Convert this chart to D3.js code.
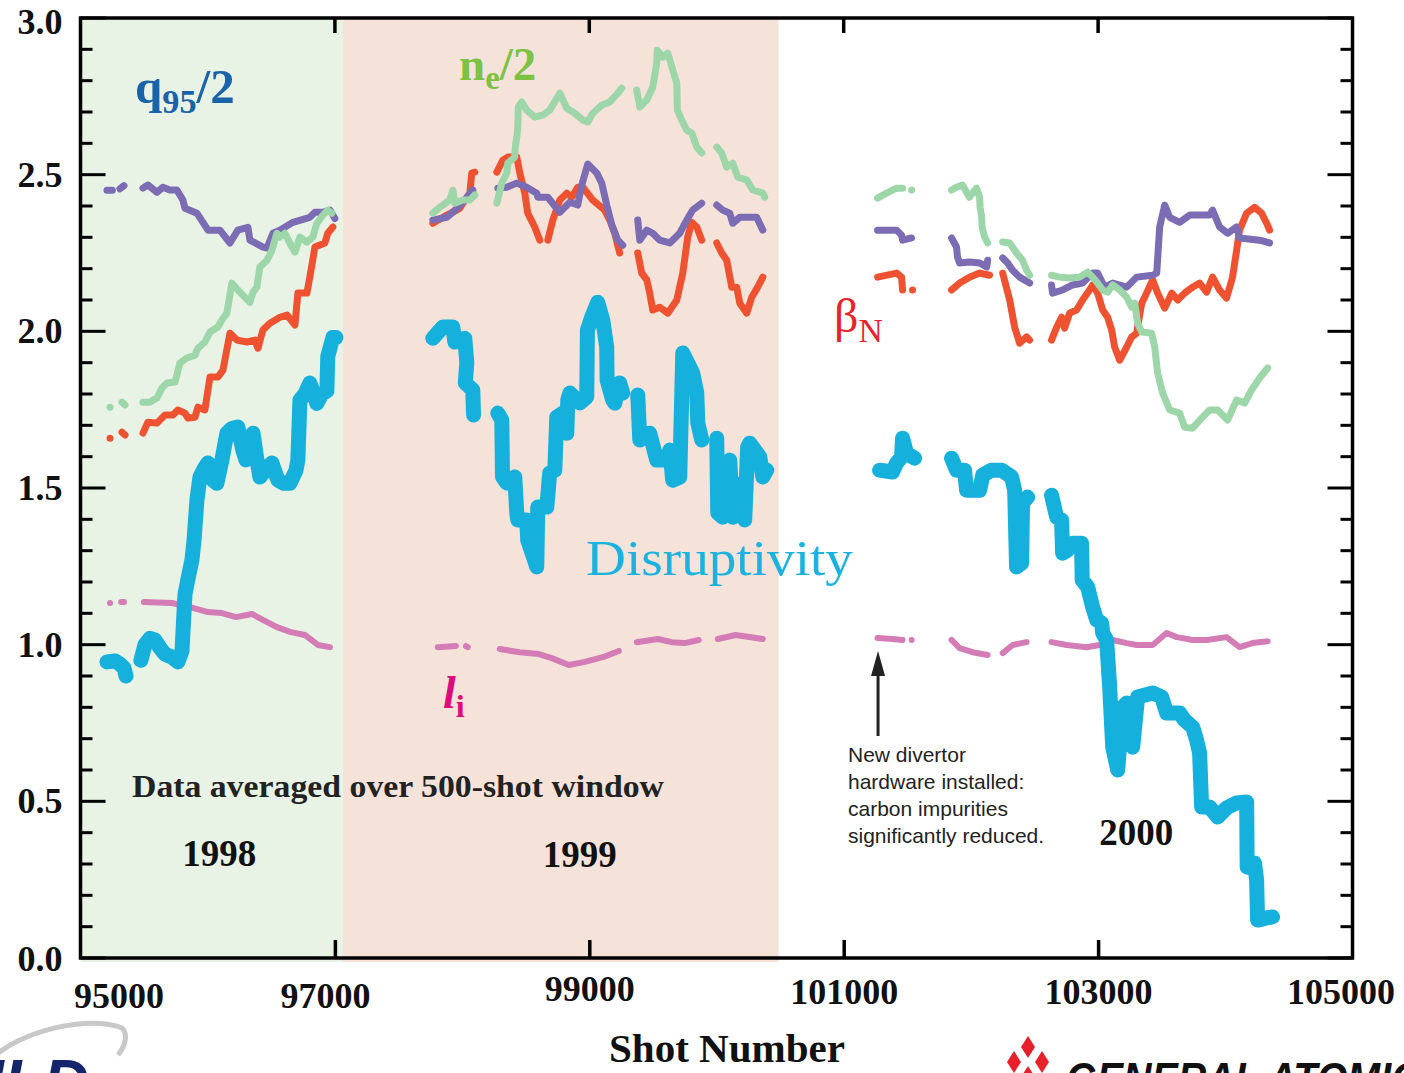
<!DOCTYPE html>
<html>
<head>
<meta charset="UTF-8">
<title>Disruptivity vs Shot Number</title>
<script src="https://cdn.jsdelivr.net/npm/d3@7"></script>
<style>
  body { margin: 0; background: #fff; overflow: hidden; }
  svg { display: block; }
</style>
</head>
<body>
<script>
// ---- data (shot number, value); null = gap in the record ----
var yearSpans = [[95000, 97063, "#e8f2e5"], [97063, 100489, "#f5e3da"]];
var xTicks = [95000, 97000, 99000, 101000, 103000, 105000];
var yTicks = [0, 0.5, 1.0, 1.5, 2.0, 2.5, 3.0];

var disrupt = [
  [95208,0.945],[95271,0.948],[95310,0.938],[95342,0.925],[95358,0.90], null,
  [95475,0.95],[95507,1.0],[95546,1.02],[95585,1.015],[95625,0.99],[95664,0.97],[95719,0.96],[95766,0.945],
  [95798,0.98],[95821,1.16],[95845,1.21],[95876,1.27],[95892,1.33],[95915,1.46],[95939,1.535],[95970,1.56],
  [96002,1.58],[96041,1.525],[96072,1.515],[96112,1.59],[96151,1.675],[96190,1.69],[96237,1.695],[96277,1.62],
  [96300,1.59],[96332,1.64],[96356,1.675],[96387,1.59],[96410,1.535],[96458,1.56],[96505,1.58],[96552,1.525],
  [96599,1.515],[96646,1.515],[96693,1.555],[96709,1.59],[96725,1.78],[96764,1.80],[96803,1.835],[96835,1.80],
  [96858,1.77],[96897,1.80],[96937,1.81],[96944,1.92],[96984,1.98],[97008,1.98], null,
  [97770,1.978],[97849,2.014],[97927,2.014],[97943,1.966],[98021,1.978],[98037,1.899],[98025,1.835],[98084,1.813],[98090,1.733], null,
  [98281,1.739],[98312,1.717],[98318,1.535],[98351,1.516],[98414,1.535],[98430,1.42],[98438,1.398],[98508,1.398],
  [98516,1.334],[98587,1.248],[98595,1.439],[98666,1.439],[98689,1.548],[98729,1.557],[98744,1.726],[98791,1.739],
  [98823,1.675],[98831,1.781],[98847,1.803],[98925,1.771],[98980,1.79],[98985,2.004],[99019,2.045],[99066,2.093],
  [99106,2.036],[99137,1.95],[99140,1.844],[99184,1.781],[99200,1.771],[99239,1.835],[99263,1.803], null,
  [99381,1.797],[99397,1.653],[99475,1.675],[99530,1.589],[99609,1.589],[99633,1.621],[99656,1.525],[99711,1.535],
  [99735,1.931],[99774,1.899],[99813,1.867],[99845,1.803],[99853,1.707],[99884,1.653], null,
  [100002,1.659],[100010,1.42],[100049,1.407],[100104,1.589],[100128,1.407],[100206,1.516],[100222,1.398],
  [100245,1.631],[100261,1.643],[100340,1.599],[100364,1.535],[100395,1.557], null,
  [101282,1.557],[101384,1.551],[101416,1.58],[101455,1.599],[101463,1.659],[101494,1.611],[101557,1.595], null,
  [101848,1.595],[101887,1.557],[101950,1.557],[101966,1.493],[102069,1.493],[102093,1.541],[102163,1.557],
  [102242,1.557],[102320,1.535],[102344,1.493],[102359,1.248],[102399,1.26],[102406,1.452],[102446,1.471], null,
  [102634,1.477],[102674,1.407],[102713,1.398],[102721,1.292],[102760,1.302],[102800,1.324],[102870,1.324],
  [102875,1.206],[102918,1.184],[102957,1.12],[102989,1.079],[103028,1.069],[103036,1.037],[103067,1.015],
  [103091,0.865],[103115,0.673],[103154,0.60],[103193,0.801],[103225,0.814],[103233,0.696],[103272,0.673],
  [103311,0.833],[103429,0.846],[103500,0.833],[103539,0.782],[103641,0.782],[103680,0.759],[103743,0.737],
  [103774,0.696],[103798,0.654],[103814,0.482],[103877,0.482],[103940,0.45],[104010,0.479],[104089,0.495],
  [104168,0.498],[104172,0.29],[104230,0.303],[104246,0.249],[104254,0.121],[104325,0.128],[104372,0.131]
];

var q95 = [
  [95208,2.45],[95250,2.45], null, [95310,2.455],[95342,2.465], null,
  [95491,2.457],[95530,2.467],[95601,2.444],[95648,2.46],[95703,2.451],[95758,2.451],[95805,2.419],[95821,2.393],
  [95915,2.377],[96002,2.323],[96096,2.323],[96175,2.282],[96237,2.323],[96316,2.332],[96332,2.291],[96434,2.269],
  [96466,2.266],[96513,2.313],[96568,2.323],[96670,2.348],[96803,2.364],[96843,2.38],[96906,2.38],[96961,2.387],[97000,2.36], null,
  [97770,2.355],[97880,2.364],[97927,2.38],[98006,2.412],[98084,2.451], null,
  [98281,2.457],[98351,2.46],[98430,2.473],[98508,2.46],[98587,2.441],[98595,2.428],[98674,2.428],[98768,2.38],
  [98847,2.412],[98909,2.403],[98941,2.467],[98988,2.534],[99059,2.505],[99098,2.473],[99137,2.403],[99177,2.339],
  [99224,2.291],[99263,2.275], null,
  [99381,2.355],[99397,2.291],[99452,2.323],[99499,2.313],[99554,2.291],[99633,2.282],[99711,2.313],[99766,2.355],
  [99813,2.387],[99884,2.409], null,
  [100002,2.403],[100049,2.387],[100104,2.377],[100128,2.345],[100183,2.364],[100261,2.364],[100316,2.364],[100364,2.323], null,
  [101266,2.323],[101416,2.323],[101455,2.307],[101463,2.291],[101534,2.298], null,
  [101848,2.298],[101887,2.269],[101895,2.237],[101911,2.218],[101989,2.221],[102069,2.218],[102124,2.205],[102132,2.227], null,
  [102250,2.234],[102289,2.218],[102328,2.195],[102383,2.173],[102462,2.154], null,
  [102634,2.148],[102642,2.122],[102721,2.132],[102800,2.148],[102878,2.154],[102957,2.186],[102996,2.186],
  [103051,2.141],[103115,2.154],[103225,2.141],[103303,2.173],[103429,2.179],[103461,2.186],[103484,2.333],
  [103524,2.403],[103563,2.364],[103641,2.348],[103720,2.371],[103877,2.371],[103900,2.387],[103955,2.333],
  [104018,2.313],[104089,2.333],[104112,2.298],[104270,2.291],[104348,2.282]
];

var betaN = [
  [95232,1.659], null, [95326,1.678],[95350,1.669], null,
  [95491,1.675],[95530,1.71],[95601,1.707],[95664,1.733],[95727,1.733],[95766,1.749],[95821,1.739],[95845,1.723],
  [95900,1.726],[95923,1.758],[95978,1.749],[96018,1.854],[96080,1.854],[96120,1.876],[96175,1.994],[96230,1.972],
  [96308,1.966],[96371,1.972],[96395,1.946],[96434,2.004],[96489,2.026],[96568,2.045],[96623,2.052],[96686,2.02],
  [96709,2.122],[96780,2.122],[96803,2.173],[96843,2.269],[96921,2.282],[96944,2.313],[96984,2.333], null,
  [97770,2.345],[97880,2.371],[97958,2.387],[97982,2.393],[98006,2.409],[98061,2.441],[98076,2.505],[98100,2.508], null,
  [98273,2.508],[98320,2.546],[98359,2.556],[98430,2.556],[98454,2.505],[98493,2.441],[98516,2.377],[98571,2.333],[98611,2.291], null,
  [98674,2.291],[98713,2.355],[98768,2.419],[98823,2.441],[98862,2.428],[98909,2.46],[98949,2.46],[99027,2.419],
  [99121,2.387],[99161,2.355],[99200,2.313],[99239,2.25], null,
  [99381,2.25],[99412,2.186],[99452,2.164],[99475,2.122],[99499,2.068],[99554,2.077],[99617,2.058],[99688,2.10],
  [99735,2.186],[99774,2.301],[99805,2.348],[99845,2.333],[99884,2.291], null,
  [100002,2.282],[100041,2.25],[100080,2.227],[100120,2.141],[100159,2.141],[100183,2.09],[100238,2.058],
  [100277,2.109],[100324,2.141],[100364,2.173], null,
  [101266,2.173],[101416,2.186],[101455,2.173],[101463,2.132], null, [101541,2.132], null,
  [101848,2.132],[101911,2.154],[101989,2.173],[102069,2.186],[102147,2.179], null,
  [102250,2.186],[102305,2.10],[102344,2.013],[102383,1.962],[102438,1.982],[102462,1.972], null,
  [102634,1.972],[102674,2.013],[102713,2.045],[102737,2.01],[102776,2.058],[102831,2.068],[102878,2.10],
  [102933,2.132],[102957,2.148],[102996,2.122],[103036,2.068],[103075,2.045],[103107,2.004],[103130,1.95],
  [103170,1.908],[103225,1.95],[103264,1.982],[103303,1.994],[103343,2.09],[103366,2.109],[103429,2.164],
  [103468,2.122],[103524,2.074],[103579,2.122],[103626,2.10],[103680,2.122],[103743,2.141],[103798,2.154],
  [103853,2.125],[103900,2.173],[103955,2.132],[104010,2.106],[104057,2.173],[104089,2.259],[104112,2.323],
  [104168,2.377],[104230,2.396],[104285,2.377],[104325,2.345],[104348,2.323]
];

var neHalf = [
  [95232,1.758], null, [95326,1.774],[95350,1.765], null,
  [95491,1.774],[95546,1.774],[95601,1.787],[95640,1.819],[95680,1.835],[95743,1.838],[95782,1.899],[95837,1.915],
  [95900,1.924],[95923,1.946],[95978,1.966],[96018,1.998],[96080,2.014],[96112,2.036],[96151,2.058],[96190,2.154],
  [96237,2.132],[96292,2.109],[96332,2.093],[96356,2.125],[96387,2.141],[96410,2.205],[96466,2.227],[96505,2.259],
  [96544,2.313],[96568,2.301],[96607,2.313],[96662,2.269],[96686,2.253],[96725,2.301],[96780,2.285],[96827,2.301],
  [96858,2.345],[96906,2.371],[96944,2.387],[96976,2.377], null,
  [97770,2.377],[97825,2.396],[97903,2.419],[97927,2.451],[97943,2.409],[98006,2.419],[98061,2.419],[98100,2.435], null,
  [98273,2.409],[98312,2.473],[98351,2.505],[98359,2.537],[98414,2.556],[98418,2.588],[98430,2.62],[98438,2.652],
  [98442,2.716],[98469,2.732],[98508,2.706],[98571,2.684],[98634,2.69],[98689,2.706],[98768,2.76],[98823,2.712],
  [98886,2.696],[98949,2.674],[98988,2.668],[99027,2.696],[99098,2.722],[99161,2.732],[99224,2.76],[99255,2.776], null,
  [99373,2.77],[99397,2.716],[99452,2.738],[99499,2.779],[99530,2.856],[99534,2.897],[99577,2.875],[99617,2.888],
  [99656,2.834],[99688,2.792],[99692,2.706],[99727,2.674],[99766,2.642],[99805,2.633],[99845,2.588],[99884,2.569], null,
  [100002,2.588],[100041,2.569],[100080,2.524],[100128,2.537],[100167,2.492],[100238,2.483],[100285,2.451],
  [100364,2.441],[100379,2.428], null,
  [101266,2.425],[101337,2.441],[101416,2.457],[101463,2.457], null, [101534,2.451], null,
  [101848,2.451],[101887,2.46],[101934,2.467],[101989,2.428],[102044,2.457],[102069,2.428],[102072,2.396],
  [102085,2.364],[102088,2.333],[102108,2.301],[102132,2.282], null,
  [102250,2.285],[102305,2.282],[102359,2.25],[102406,2.227],[102438,2.195],[102462,2.179], null,
  [102634,2.179],[102697,2.173],[102776,2.17],[102854,2.173],[102918,2.189],[102957,2.173],[102996,2.154],
  [103036,2.132],[103075,2.125],[103115,2.148],[103170,2.132],[103225,2.109],[103264,2.077],[103288,2.09],
  [103311,2.026],[103343,1.998],[103421,1.994],[103445,1.95],[103468,1.867],[103508,1.803],[103563,1.749],
  [103641,1.739],[103680,1.694],[103743,1.691],[103814,1.723],[103877,1.749],[103940,1.749],[104018,1.717],
  [104089,1.781],[104152,1.771],[104207,1.813],[104270,1.851],[104333,1.883]
];

var li = [
  [95232,1.133], null, [95320,1.136],[95342,1.136], null,
  [95499,1.136],[95719,1.133],[95860,1.12],[96002,1.104],[96112,1.101],[96222,1.088],[96348,1.098],[96434,1.079],
  [96544,1.056],[96654,1.04],[96764,1.031],[96866,0.999],[96961,0.992], null,
  [97809,0.992],[97951,0.996], null, [98030,0.995],[98045,0.992], null,
  [98296,0.986],[98453,0.976],[98603,0.97],[98705,0.957],[98839,0.935],[98965,0.945],[99106,0.96],[99232,0.98], null,
  [99373,1.008],[99538,1.018],[99648,1.008],[99750,1.005],[99860,1.015], null,
  [100010,1.018],[100151,1.031],[100364,1.018], null,
  [101266,1.021],[101384,1.018],[101463,1.015], null, [101534,1.015], null,
  [101848,1.015],[101911,0.989],[102013,0.976],[102132,0.967], null,
  [102250,0.973],[102328,0.999],[102438,1.008], null,
  [102634,1.008],[102752,0.999],[102909,0.992],[103012,0.999],[103115,1.015],[103225,1.005],[103303,0.999],
  [103429,0.999],[103539,1.037],[103618,1.024],[103743,1.015],[103853,1.015],[104010,1.024],[104112,0.992],
  [104214,1.005],[104333,1.011]
];

var annotationLines = ["New divertor", "hardware installed:", "carbon impurities", "significantly reduced."];
var yearLabels = [["1998", 96090, 0.295], ["1999", 98925, 0.292], ["2000", 103300, 0.36]];

// ---- layout ----
var W = 1404, H = 1073;
var svg = d3.select("body").append("svg").attr("width", W).attr("height", H);

var x = d3.scaleLinear().domain([95000, 105000]).range([80.5, 1352.5]);
var y = d3.scaleLinear().domain([0, 3]).range([958, 18]);

var serif = "'Liberation Serif', 'Times New Roman', serif";

// year shading
svg.selectAll("rect.span")
  .data(yearSpans)
  .enter().append("rect")
  .attr("x", function(d) { return x(d[0]); })
  .attr("y", y(3))
  .attr("width", function(d) { return x(d[1]) - x(d[0]); })
  .attr("height", y(0) - y(3) + 4)
  .attr("fill", function(d) { return d[2]; });

// series
var line = d3.line()
  .defined(function(d) { return d != null; })
  .x(function(d) { return x(d[0]); })
  .y(function(d) { return y(d[1]); });

function drawSeries(data, color, width) {
  svg.append("path")
    .datum(data)
    .attr("d", line)
    .attr("fill", "none")
    .attr("stroke", color)
    .attr("stroke-width", width)
    .attr("stroke-linecap", "round")
    .attr("stroke-linejoin", "round");
}

drawSeries(li, "#d47cb6", 6);
drawSeries(betaN, "#ee5230", 7);
drawSeries(q95, "#7b6cb4", 7);
drawSeries(neHalf, "#9dd6a9", 7);
drawSeries(disrupt, "#15b0dc", 15);

// frame
svg.append("rect")
  .attr("x", x(95000)).attr("y", y(3))
  .attr("width", x(105000) - x(95000)).attr("height", y(0) - y(3))
  .attr("fill", "none").attr("stroke", "#000").attr("stroke-width", 3.5);

// y ticks, both sides, inward
var yMinor = d3.range(0, 3.001, 0.1);
[[80.5, 1], [1352.5, -1]].forEach(function(side) {
  svg.selectAll(null)
    .data(yMinor)
    .enter().append("line")
    .attr("x1", side[0])
    .attr("x2", function(d, i) { return side[0] + side[1] * (i % 5 === 0 ? 25 : 12); })
    .attr("y1", function(d) { return y(d); })
    .attr("y2", function(d) { return y(d); })
    .attr("stroke", "#000").attr("stroke-width", 3);
});

// x ticks: bottom via d3 axis, top as inward marks
var xAxis = d3.axisBottom(x)
  .tickValues(xTicks)
  .tickSizeInner(-18)
  .tickSizeOuter(0)
  .tickPadding(32)
  .tickFormat(d3.format("d"));

var gx = svg.append("g")
  .attr("transform", "translate(0," + y(0) + ")")
  .call(xAxis);
gx.select(".domain").remove();
gx.selectAll(".tick line").attr("stroke", "#000").attr("stroke-width", 3.5)
  .filter(function(d) { return d === 95000 || d === 105000; }).remove();
gx.selectAll(".tick text")
  .attr("font-family", serif).attr("font-size", 36).attr("font-weight", "bold").attr("fill", "#111")
  .attr("dx", function(d) { return d === 95000 ? 38 : d === 97000 ? -10 : d === 105000 ? -12 : 0; })
  .attr("dy", function(d) { return d === 99000 ? "0.3em" : d === 95000 || d === 97000 ? "0.5em" : "0.4em"; });

svg.selectAll("line.toptick")
  .data(xTicks.slice(1, -1))
  .enter().append("line")
  .attr("x1", function(d) { return x(d); })
  .attr("x2", function(d) { return x(d); })
  .attr("y1", y(3)).attr("y2", y(3) + 15)
  .attr("stroke", "#000").attr("stroke-width", 3.5);

// y tick labels
var yAxis = d3.axisLeft(y)
  .tickValues(yTicks)
  .tickSize(0)
  .tickPadding(18)
  .tickFormat(d3.format(".1f"));
var gy = svg.append("g")
  .attr("transform", "translate(" + x(95000) + ",0)")
  .call(yAxis);
gy.select(".domain").remove();
gy.selectAll(".tick text")
  .attr("font-family", serif).attr("font-size", 36).attr("font-weight", "bold").attr("fill", "#111")
  .attr("dy", function(d) { return d === 3 ? "0.42em" : d === 0 ? "0.35em" : "0.32em"; });

// axis title
svg.append("text")
  .attr("x", 727).attr("y", 1062)
  .attr("text-anchor", "middle")
  .attr("font-family", serif).attr("font-size", 39).attr("font-weight", "bold")
  .attr("fill", "#111")
  .attr("textLength", 236).attr("lengthAdjust", "spacingAndGlyphs")
  .text("Shot Number");

// series labels
function label(px, py, color, size, main, sub, opts) {
  opts = opts || {};
  var t = svg.append("text")
    .attr("x", px).attr("y", py)
    .attr("font-family", serif)
    .attr("font-size", size)
    .attr("font-weight", opts.weight || "bold")
    .attr("font-style", opts.style || "normal")
    .attr("fill", color);
  t.append("tspan").text(main);
  if (sub) {
    t.append("tspan").attr("font-size", size * 0.7).attr("dy", size * 0.2)
      .attr("font-style", "normal").text(sub);
    if (opts.tail) {
      t.append("tspan").attr("dy", -size * 0.2).text(opts.tail);
    }
  }
}
label(135, 103, "#1863aa", 49, "q", "95", { tail: "/2" });
label(459, 80, "#7dc243", 47, "n", "e", { tail: "/2" });
label(834, 332, "#e8232b", 48, "\u03b2", "N", { weight: "normal" });
label(443, 708, "#df0b7d", 46, "l", "i", { style: "italic" });

svg.append("text")
  .attr("x", 586).attr("y", 575)
  .attr("font-family", serif).attr("font-size", 50)
  .attr("fill", "#1bb2e0")
  .attr("textLength", 267).attr("lengthAdjust", "spacingAndGlyphs")
  .text("Disruptivity");

svg.append("text")
  .attr("x", 132).attr("y", 797)
  .attr("font-family", serif).attr("font-size", 31).attr("font-weight", "bold")
  .attr("fill", "#222")
  .attr("textLength", 532).attr("lengthAdjust", "spacingAndGlyphs")
  .text("Data averaged over 500-shot window");

svg.selectAll("text.year")
  .data(yearLabels)
  .enter().append("text")
  .attr("x", function(d) { return x(d[1]); })
  .attr("y", function(d) { return y(d[2]); })
  .attr("text-anchor", "middle")
  .attr("font-family", serif).attr("font-size", 37).attr("font-weight", "bold")
  .attr("fill", "#111")
  .text(function(d) { return d[0]; });

// divertor annotation
svg.selectAll("text.note")
  .data(annotationLines)
  .enter().append("text")
  .attr("x", 848)
  .attr("y", function(d, i) { return 762 + i * 27; })
  .attr("font-family", "'Liberation Sans', Arial, sans-serif")
  .attr("font-size", 21)
  .attr("fill", "#222")
  .text(function(d) { return d; });

var ax = x(101270);
svg.append("line")
  .attr("x1", ax).attr("x2", ax)
  .attr("y1", 736).attr("y2", 668)
  .attr("stroke", "#222").attr("stroke-width", 3);
svg.append("path")
  .attr("d", "M" + (ax - 7) + ",676 L" + ax + ",651 L" + (ax + 7) + ",676 Z")
  .attr("fill", "#222");

// logos at the bottom edge (cut off by the page, as in the source figure)
svg.append("path")
  .attr("d", "M -10,1060 C 20,1030 90,1015 122,1028 C 128,1034 126,1045 118,1055")
  .attr("fill", "none").attr("stroke", "#c8c8c8").attr("stroke-width", 5);
svg.append("text")
  .attr("x", -14).attr("y", 1105)
  .attr("font-family", "'Liberation Sans', Arial, sans-serif")
  .attr("font-size", 64).attr("font-weight", "bold").attr("font-style", "italic")
  .attr("fill", "#15256b")
  .text("II-D");

var gaX = 1028, gaY = 1060;
[[0, -13], [-14, 2], [14, 2], [0, 17]].forEach(function(o) {
  var cx = gaX + o[0], cy = gaY + o[1];
  svg.append("path")
    .attr("d", "M" + cx + "," + (cy - 11) + " L" + (cx + 7) + "," + cy + " L" + cx + "," + (cy + 11) + " L" + (cx - 7) + "," + cy + " Z")
    .attr("fill", "#e8202a");
});
svg.append("text")
  .attr("x", 1066).attr("y", 1094)
  .attr("font-family", "'Liberation Sans', Arial, sans-serif")
  .attr("font-size", 44).attr("font-weight", "bold").attr("font-style", "italic")
  .attr("fill", "#111")
  .attr("textLength", 380).attr("lengthAdjust", "spacingAndGlyphs")
  .text("GENERAL ATOMICS");
</script>
</body>
</html>
